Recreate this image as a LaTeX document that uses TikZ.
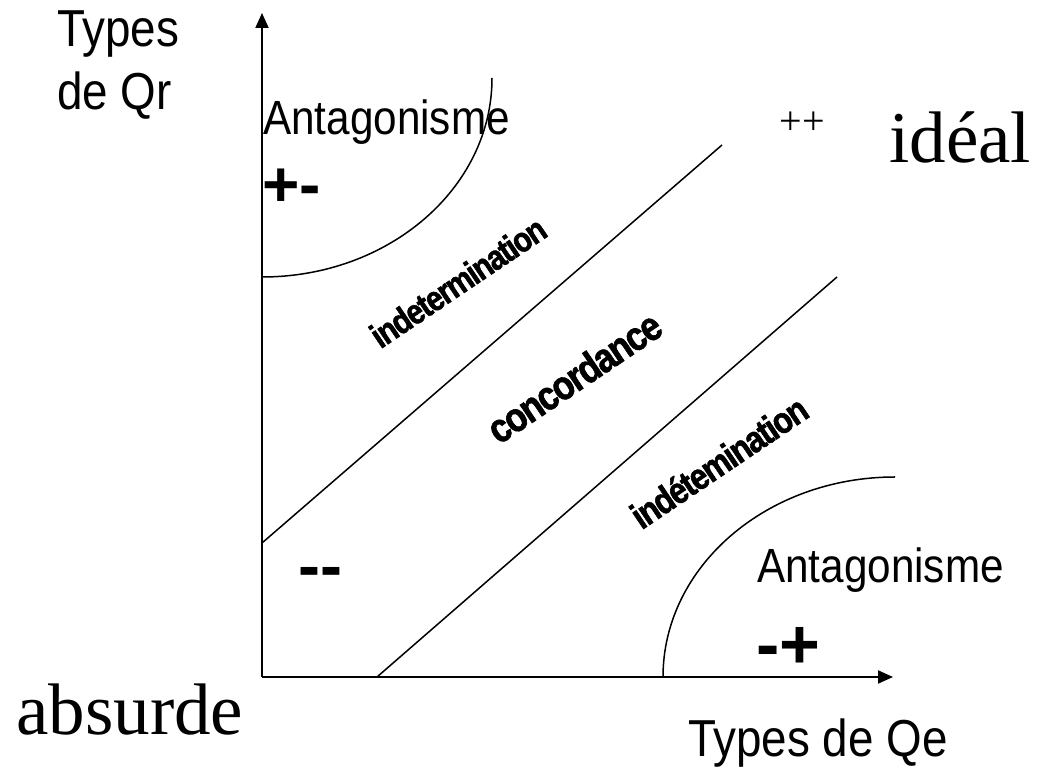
\documentclass[tikz,border=0pt]{standalone}
\usepackage{fontspec}
\setmainfont{Liberation Serif}
\newfontfamily\narrowsans[FakeStretch=0.88]{Liberation Sans}
\newfontfamily\bandsans[FakeStretch=0.85, FakeBold=1.5, LetterSpace=-4]{Liberation Sans Bold}
\newfontfamily\plainsans{Liberation Sans}
\usetikzlibrary{arrows.meta,positioning}

\tikzset{
  axis/.style={line width=2pt, -{Triangle[length=15pt,width=13pt]}},
  border/.style={line width=1.5pt},
  zonelabel/.style={inner sep=0pt, font=\narrowsans\fontsize{48}{56}\selectfont},
  axislabel/.style={inner sep=0pt, font=\narrowsans\fontsize{52}{60}\selectfont},
  bandlabel/.style={inner sep=0pt, rotate=34, font=\bandsans\fontsize{#1}{#1}\selectfont},
  signlabel/.style={inner sep=0pt, font=\plainsans\bfseries\fontsize{#1}{#1}\selectfont},
  verdict/.style={inner sep=0pt, font=\fontsize{73}{80}\selectfont}
}

\begin{document}
\begin{tikzpicture}[x=1pt,y=1pt]
\useasboundingbox (0,0) rectangle (1039,771);

% axes
\coordinate (O) at (262,94);
\coordinate (ytip) at (262,758);
\coordinate (xtip) at (893,94);
\draw[axis] (O) -- (ytip);
\draw[axis] (O) -- (xtip);

% zone borders
\coordinate (tlstart) at (262,494);
\coordinate (brstart) at (663,94);
\coordinate (b1start) at (262,228);
\coordinate (b1end) at (722,626);
\coordinate (b2start) at (377,94);
\coordinate (b2end) at (837,494);
\draw[border] (tlstart) arc[start angle=-90, end angle=0, x radius=230, y radius=199];
\draw[border] (brstart) arc[start angle=180, end angle=90, x radius=232, y radius=200];
\draw[border] (b1start) -- (b1end);
\draw[border] (b2start) -- (b2end);

% axis titles
\node[axislabel, anchor=base west] (qr1) at (57,724) {Types};
\node[axislabel, anchor=base west] (qr2) at (57,661) {de Qr};
\node[axislabel, anchor=base west] (qe) at (688,14) {Types de Qe};

% zones
\node[zonelabel, anchor=base west] (antatl) at (263,636) {Antagonisme};
\node[signlabel=64, anchor=base west] (pm) at (262,564) {+-};
\node[zonelabel, anchor=base west] (antabr) at (757,188) {Antagonisme};
\node[signlabel=70, anchor=base west] (mp) at (756,102) {-+};
\node[signlabel=66, anchor=base west] (mm) at (298,182) {-{}-};
\node[inner sep=0pt, font=\fontsize{40}{40}\selectfont, anchor=base] (pp) at (802,636) {++};

% bands
\node[bandlabel=35] (indet1) at (458,489) {indetermination};
\node[bandlabel=41] (conc) at (574,394) {concordance};
\node[bandlabel=37] (indet2) at (719,309) {indétemination};

% corners
\node[verdict, anchor=base west] (ideal) at (889,608) {idéal};
\node[verdict, anchor=base west] (absurd) at (16,36) {absurde};
\end{tikzpicture}
\end{document}
